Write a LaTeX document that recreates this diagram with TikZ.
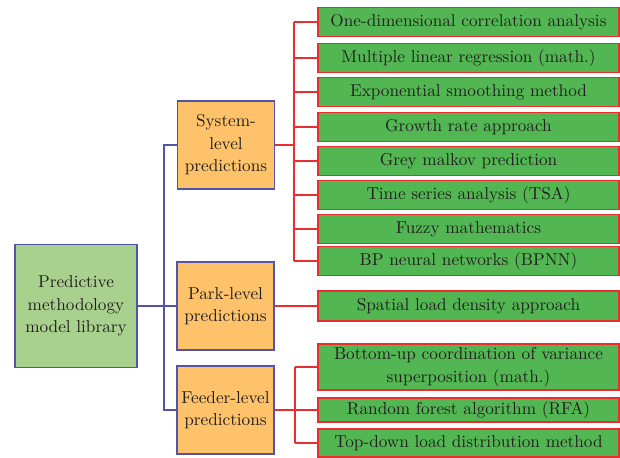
\documentclass[tikz,border=0pt]{standalone}
\usepackage{fontspec}
\setmainfont{lmroman10-regular.otf}
\begin{document}
\begin{tikzpicture}[x=1pt,y=-1pt,
  every node/.style={font=\fontsize{17.2}{22.5}\selectfont, text=txtc, align=center, inner sep=1pt},
  leafbox/.style={draw=redc, line width=1.4pt, fill=leafc, minimum width=301pt, anchor=center},
  midbox/.style={draw=bluec, line width=1.2pt, fill=orangec, minimum width=97pt, minimum height=88pt},
  rootbox/.style={draw=bluec, line width=1.2pt, fill=rootc, minimum width=122pt, minimum height=123pt},
  redln/.style={draw=redc, line width=1.3pt},
  blueln/.style={draw=bluec, line width=1.3pt}]
\definecolor{txtc}{HTML}{231F20}
\definecolor{redc}{HTML}{EE2B2F}
\definecolor{bluec}{HTML}{5353AA}
\definecolor{leafc}{HTML}{52B752}
\definecolor{orangec}{HTML}{FEC26A}
\definecolor{rootc}{HTML}{A9D18E}
\useasboundingbox (0,0) rectangle (620,457);

\node[rootbox] (root) at (76,306) {Predictive\\methodology\\model library};
\node[midbox] (sys) at (226,145) {System-\\level\\predictions};
\node[midbox] (park) at (225.5,306) {Park-level\\predictions};
\node[midbox] (feed) at (225.5,410) {Feeder-level\\predictions};

\node[leafbox, minimum height=29.5pt] (l1) at (468.5,22) {One-dimensional correlation analysis};
\node[leafbox, minimum height=29.5pt] (l2) at (468.5,58) {Multiple linear regression (math.)};
\node[leafbox, minimum height=29.5pt] (l3) at (468.5,92) {Exponential smoothing method};
\node[leafbox, minimum height=29.5pt] (l4) at (468.5,127) {Growth rate approach};
\node[leafbox, minimum height=29.5pt] (l5) at (468.5,161) {Grey malkov prediction};
\node[leafbox, minimum height=29.5pt] (l6) at (468.5,195) {Time series analysis (TSA)};
\node[leafbox, minimum height=29.5pt] (l7) at (468.5,229) {Fuzzy mathematics};
\node[leafbox, minimum height=29.5pt] (l8) at (468.5,261) {BP neural networks (BPNN)};

\node[leafbox, minimum height=30pt] (s1) at (468.5,306) {Spatial load density approach};

\node[leafbox, minimum height=46pt] (f1) at (468.5,367) {Bottom-up coordination of variance\\superposition (math.)};
\node[leafbox, minimum height=24pt] (f2) at (468.5,410) {Random forest algorithm (RFA)};
\node[leafbox, minimum height=28pt] (f3) at (468.5,443) {Top-down load distribution method};

% blue connectors
\coordinate (bt) at (164,306);
\draw[blueln] (root.east) -- (park.west);
\draw[blueln] (sys.west) -| (bt) |- (feed.west);

% red connectors, system level
\coordinate (rs) at (294,145);
\draw[redln] (sys.east) -- (rs);
\draw[redln] (rs |- l1.west) -- (rs |- l8.west);
\foreach \n in {l1,l2,l3,l4,l5,l6,l7,l8}
  \draw[redln] (rs |- \n.west) -- (\n.west);

% park level
\draw[redln] (park.east) -- (s1.west);

% feeder level
\coordinate (rf) at (295,410);
\draw[redln] (feed.east) -- (rf);
\draw[redln] (rf |- f1.west) -- (rf |- f3.west);
\foreach \n in {f1,f2,f3}
  \draw[redln] (rf |- \n.west) -- (\n.west);
\end{tikzpicture}
\end{document}
